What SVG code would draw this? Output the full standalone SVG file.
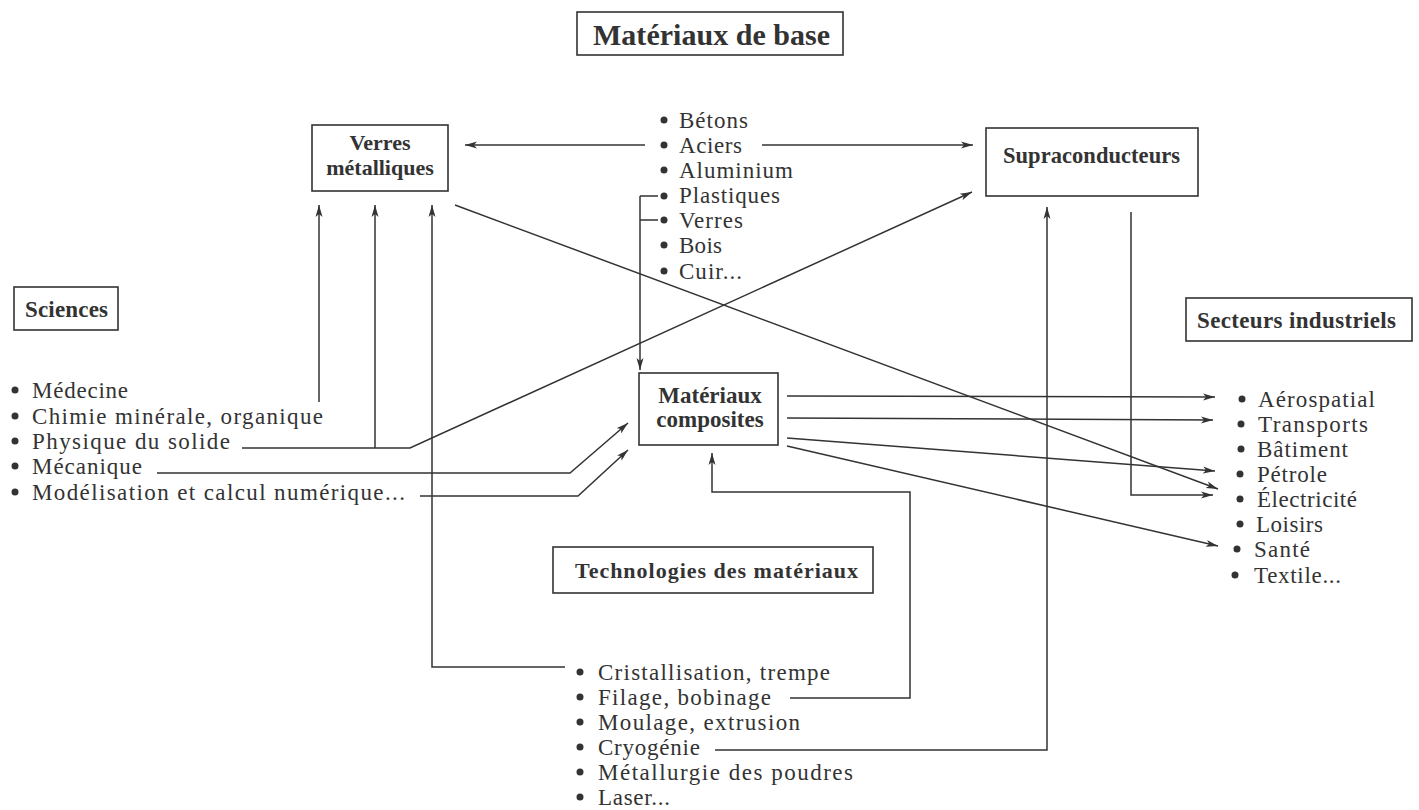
<svg xmlns="http://www.w3.org/2000/svg" width="1419" height="810" viewBox="0 0 1419 810">
<defs>
<marker id="ah" markerWidth="14" markerHeight="10" refX="12" refY="4" orient="auto" markerUnits="userSpaceOnUse">
<path d="M0,0.5 L12,4 L0,7.5 L3,4 z" fill="#333"/>
</marker>
<style>
.box{fill:#fff;stroke:#333;stroke-width:1.6}
.b{font-family:"Liberation Serif","Times New Roman",serif;font-weight:bold;fill:#333}
.t{font-family:"Liberation Serif","Times New Roman",serif;font-size:23px;fill:#333}
.dot{fill:#333}
.c{fill:none;stroke:#333;stroke-width:1.5}
.a{fill:none;stroke:#333;stroke-width:1.5;marker-end:url(#ah)}
</style>
</defs>
<rect width="1419" height="810" fill="#fff"/>

<g id="connectors">
<path class="a" d="M645,145 L465,145"/>
<path class="a" d="M762,145 L973,145"/>
<path class="c" d="M658,196 L640,196 M658,220 L640,220"/>
<path class="a" d="M640,196 L640,370"/>
<path class="a" d="M319,402 L319,205"/>
<path class="a" d="M375,448 L375,205"/>
<path class="a" d="M565,667 L432,667 L432,205"/>
<path class="a" d="M242,448 L410,448 L972,192"/>
<path class="a" d="M157,473 L570,473 L628,423"/>
<path class="a" d="M420,496 L578,496 L628,450"/>
<path class="a" d="M455,205 L1218,489"/>
<path class="a" d="M787,396 L1215,397"/>
<path class="a" d="M787,418 L1213,420"/>
<path class="a" d="M787,438 L1215,471"/>
<path class="a" d="M787,446 L1218,546"/>
<path class="a" d="M1131,212 L1131,495 L1213,495"/>
<path class="a" d="M715,750 L1047,750 L1047,207"/>
<path class="a" d="M790,698 L910,698 L910,492 L712,492 L712,453"/>
</g>

<g id="materiaux-de-base">
<rect class="box" x="577" y="12" width="266" height="43"/>
<text class="b" x="593" y="45" font-size="30" textLength="237" lengthAdjust="spacing">Matériaux de base</text>
</g>

<g id="verres-metalliques">
<rect class="box" x="312" y="125" width="136" height="66"/>
<text class="b" x="380" y="150" font-size="22" text-anchor="middle">Verres</text>
<text class="b" x="380" y="175" font-size="22" text-anchor="middle">métalliques</text>
</g>

<g id="supraconducteurs">
<rect class="box" x="986" y="128" width="212" height="68"/>
<text class="b" x="1003" y="163" font-size="22.5" textLength="177" lengthAdjust="spacing">Supraconducteurs</text>
</g>

<g id="sciences">
<rect class="box" x="14" y="287" width="104" height="43"/>
<text class="b" x="25" y="317" font-size="23" textLength="83" lengthAdjust="spacing">Sciences</text>
</g>

<g id="materiaux-composites">
<rect class="box" x="639" y="373" width="139" height="72"/>
<text class="b" x="710" y="403" font-size="23" text-anchor="middle">Matériaux</text>
<text class="b" x="710" y="427" font-size="23" text-anchor="middle">composites</text>
</g>

<g id="secteurs-industriels">
<rect class="box" x="1186" y="298" width="226" height="43"/>
<text class="b" x="1197" y="328" font-size="23" textLength="199" lengthAdjust="spacing">Secteurs industriels</text>
</g>

<g id="technologies">
<rect class="box" x="553" y="547" width="320" height="46"/>
<text class="b" x="575" y="578" font-size="22" textLength="283" lengthAdjust="spacing">Technologies des matériaux</text>
</g>

<g id="liste-materiaux">
<circle class="dot" cx="664" cy="120" r="3.5"/><text class="t" x="679" y="128" textLength="69" lengthAdjust="spacing">Bétons</text>
<circle class="dot" cx="664" cy="145" r="3.5"/><text class="t" x="679" y="153" textLength="63" lengthAdjust="spacing">Aciers</text>
<circle class="dot" cx="664" cy="170" r="3.5"/><text class="t" x="679" y="178" textLength="114" lengthAdjust="spacing">Aluminium</text>
<circle class="dot" cx="664" cy="196" r="3.5"/><text class="t" x="679" y="203" textLength="101" lengthAdjust="spacing">Plastiques</text>
<circle class="dot" cx="664" cy="220" r="3.5"/><text class="t" x="679" y="228" textLength="64" lengthAdjust="spacing">Verres</text>
<circle class="dot" cx="664" cy="245" r="3.5"/><text class="t" x="679" y="253" textLength="43" lengthAdjust="spacing">Bois</text>
<circle class="dot" cx="664" cy="271" r="3.5"/><text class="t" x="679" y="279" textLength="63" lengthAdjust="spacing">Cuir...</text>
</g>

<g id="liste-sciences">
<circle class="dot" cx="15" cy="390" r="3.5"/><text class="t" x="32" y="398" textLength="96" lengthAdjust="spacing">Médecine</text>
<circle class="dot" cx="15" cy="416" r="3.5"/><text class="t" x="32" y="424" textLength="291" lengthAdjust="spacing">Chimie minérale, organique</text>
<circle class="dot" cx="15" cy="441" r="3.5"/><text class="t" x="32" y="449" textLength="198" lengthAdjust="spacing">Physique du solide</text>
<circle class="dot" cx="15" cy="466" r="3.5"/><text class="t" x="32" y="474" textLength="110" lengthAdjust="spacing">Mécanique</text>
<circle class="dot" cx="15" cy="492" r="3.5"/><text class="t" x="32" y="500" textLength="373" lengthAdjust="spacing">Modélisation et calcul numérique...</text>
</g>

<g id="liste-secteurs">
<circle class="dot" cx="1242" cy="399" r="3.5"/><text class="t" x="1258" y="407" textLength="117" lengthAdjust="spacing">Aérospatial</text>
<circle class="dot" cx="1241" cy="424" r="3.5"/><text class="t" x="1258" y="432" textLength="110" lengthAdjust="spacing">Transports</text>
<circle class="dot" cx="1241" cy="449" r="3.5"/><text class="t" x="1257" y="457" textLength="91" lengthAdjust="spacing">Bâtiment</text>
<circle class="dot" cx="1240" cy="474" r="3.5"/><text class="t" x="1257" y="482" textLength="70" lengthAdjust="spacing">Pétrole</text>
<circle class="dot" cx="1240" cy="499" r="3.5"/><text class="t" x="1257" y="507" textLength="100" lengthAdjust="spacing">Électricité</text>
<circle class="dot" cx="1240" cy="524" r="3.5"/><text class="t" x="1256" y="532" textLength="67" lengthAdjust="spacing">Loisirs</text>
<circle class="dot" cx="1237" cy="549" r="3.5"/><text class="t" x="1254" y="557" textLength="56" lengthAdjust="spacing">Santé</text>
<circle class="dot" cx="1235" cy="575" r="3.5"/><text class="t" x="1254" y="583" textLength="87" lengthAdjust="spacing">Textile...</text>
</g>

<g id="liste-technologies">
<circle class="dot" cx="580" cy="672" r="3.5"/><text class="t" x="598" y="680" textLength="232" lengthAdjust="spacing">Cristallisation, trempe</text>
<circle class="dot" cx="580" cy="697" r="3.5"/><text class="t" x="598" y="705" textLength="173" lengthAdjust="spacing">Filage, bobinage</text>
<circle class="dot" cx="580" cy="722" r="3.5"/><text class="t" x="598" y="730" textLength="202" lengthAdjust="spacing">Moulage, extrusion</text>
<circle class="dot" cx="580" cy="747" r="3.5"/><text class="t" x="598" y="755" textLength="102" lengthAdjust="spacing">Cryogénie</text>
<circle class="dot" cx="580" cy="772" r="3.5"/><text class="t" x="598" y="780" textLength="255" lengthAdjust="spacing">Métallurgie des poudres</text>
<circle class="dot" cx="580" cy="797" r="3.5"/><text class="t" x="598" y="805" textLength="72" lengthAdjust="spacing">Laser...</text>
</g>
</svg>
